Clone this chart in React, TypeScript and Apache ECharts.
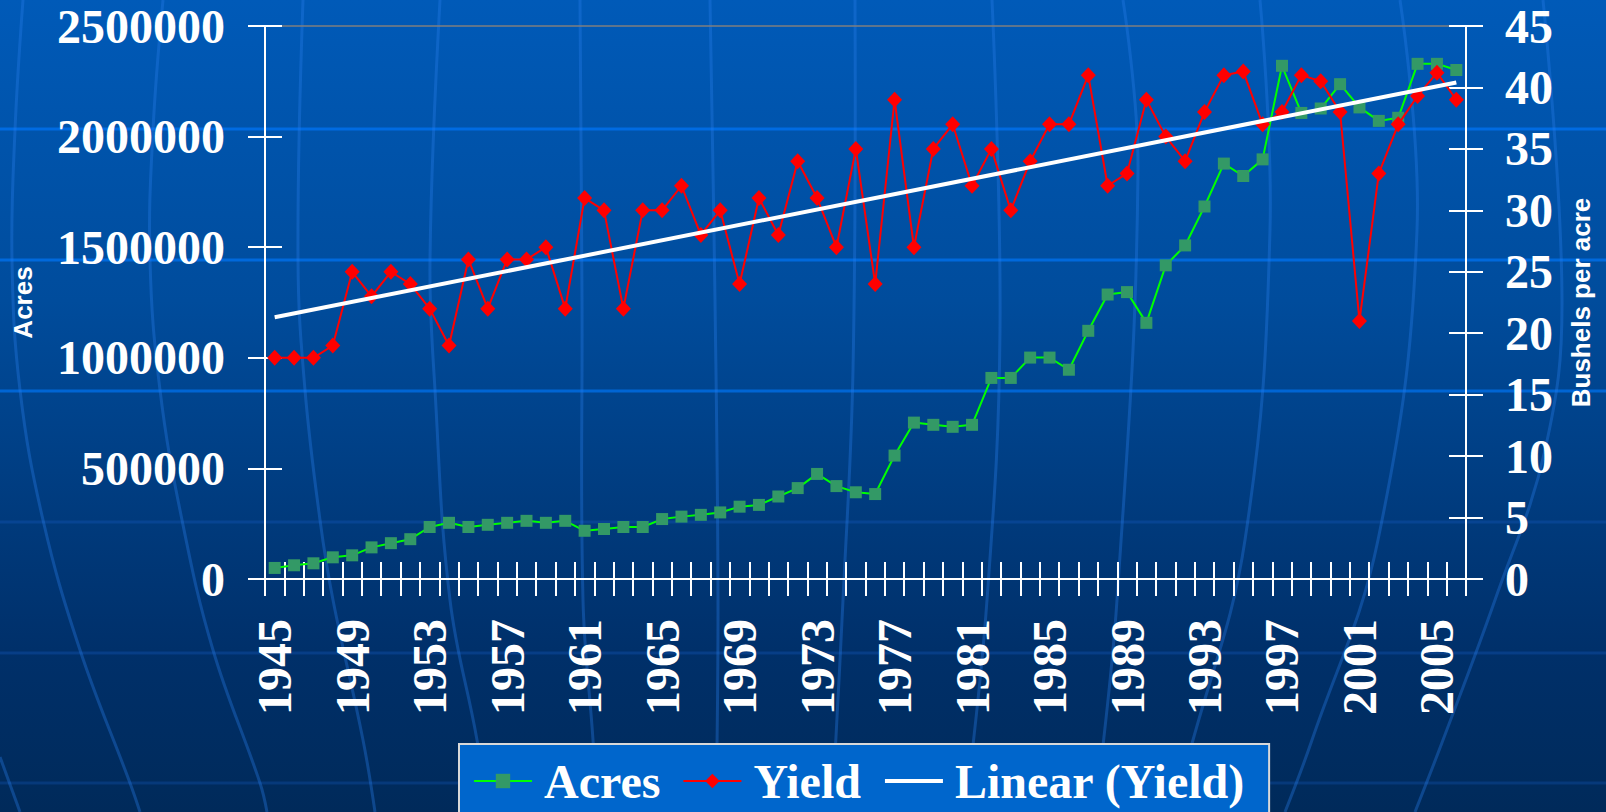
import React, { useEffect, useRef } from "react";
import * as echarts from "echarts";

// ---- Data ----
const years = [
  "1945", "1946", "1947", "1948", "1949", "1950", "1951", "1952", "1953", "1954",
  "1955", "1956", "1957", "1958", "1959", "1960", "1961", "1962", "1963", "1964",
  "1965", "1966", "1967", "1968", "1969", "1970", "1971", "1972", "1973", "1974",
  "1975", "1976", "1977", "1978", "1979", "1980", "1981", "1982", "1983", "1984",
  "1985", "1986", "1987", "1988", "1989", "1990", "1991", "1992", "1993", "1994",
  "1995", "1996", "1997", "1998", "1999", "2000", "2001", "2002", "2003", "2004",
  "2005", "2006",
];

const acres = [
  50000, 62000, 71000, 98000, 107000, 143000, 162000, 180000, 235000, 254000,
  235000, 245000, 254000, 263000, 254000, 263000, 218000, 226000, 235000, 235000,
  271000, 282000, 290000, 301000, 327000, 335000, 373000, 411000, 475000, 420000,
  392000, 384000, 558000, 707000, 697000, 688000, 697000, 909000, 909000, 1001000,
  1001000, 946000, 1122000, 1286000, 1297000, 1158000, 1418000, 1508000, 1684000, 1878000,
  1822000, 1897000, 2320000, 2107000, 2127000, 2237000, 2132000, 2071000, 2085000, 2329000,
  2329000, 2301000,
];

const yieldBu = [
  18, 18, 18, 19, 25, 23, 25, 24, 22, 19,
  26, 22, 26, 26, 27, 22, 31, 30, 22, 30,
  30, 32, 28, 30, 24, 31, 28, 34, 31, 27,
  35, 24, 39, 27, 35, 37, 32, 35, 30, 34,
  37, 37, 41, 32, 33, 39, 36, 34, 38, 41,
  41.3, 37, 38, 41, 40.5, 38, 21, 33, 37, 39.3,
  41.2, 39,
];

// Linear (Yield) trend line end values
const trendStart = 21.3;
const trendEnd = 40.4;

// Axis scales (tick values)
const acresAxis = [0, 2500000, 500000]; // min, max, interval
const yieldAxis = [0, 45, 5]; // min, max, interval

const legendNames = ["Acres", "Yield", "Linear (Yield)"];

// ---- Background decoration (template globe) ----
const bandLines = [
  { y: 129, color: "rgba(0,112,235,0.85)" },
  { y: 260, color: "rgba(0,112,235,0.8)" },
  { y: 391, color: "rgba(0,112,235,0.75)" },
  { y: 522, color: "rgba(20,90,190,0.35)" },
  { y: 653, color: "rgba(20,90,190,0.35)" },
  { y: 783, color: "rgba(20,90,190,0.3)" },
];

const meridians: number[][][] = [
  [[23, 0], [15, 130], [12, 260], [20, 390], [43, 520], [80, 650], [130, 783], [140, 812]],
  [[163, 0], [153, 130], [150, 260], [160, 390], [182, 520], [213, 650], [260, 783], [267, 812]],
  [[0, 757], [20, 812]],
  [[303, 0], [298, 260], [305, 390], [320, 520], [333, 600], [363, 740], [375, 812]],
  [[440, 0], [430, 260], [435, 390], [450, 600], [477, 740], [487, 812]],
  [[580, 0], [582, 300], [583, 600], [593, 740], [597, 812]],
  [[710, 0], [715, 300], [718, 600], [716, 812]],
  [[855, 0], [853, 370], [843, 600], [832, 812]],
  [[992, 0], [1000, 330], [987, 600], [965, 812]],
  [[1123, 0], [1138, 170], [1117, 600], [1095, 812]],
  [[1260, 0], [1270, 230], [1245, 540], [1193, 740], [1170, 812]],
  [[1400, 0], [1417, 230], [1378, 540], [1312, 740], [1285, 812]],
  [[1543, 0], [1562, 300], [1545, 450], [1495, 600], [1443, 740], [1415, 812]],
];

export default function App() {
  const ref = useRef<HTMLDivElement>(null);

  useEffect(() => {
    if (!ref.current) return;
    const chart = echarts.init(ref.current, null, { renderer: "svg" });

    const serif = "'Liberation Serif', 'Times New Roman', serif";
    const sans = "'Liberation Sans', Arial, sans-serif";
    const white = "#ffffff";
    const axisLineStyle = { color: white, width: 2 };
    const bigLabel = {
      color: white,
      fontFamily: serif,
      fontWeight: "bold" as const,
      fontSize: 48,
    };
    const nameStyle = {
      color: white,
      fontFamily: sans,
      fontWeight: "bold" as const,
      fontSize: 26,
    };

    const trend = years.map((_, i) =>
      i === 0 ? trendStart : i === years.length - 1 ? trendEnd : null
    );

    const graphics: any[] = [
      ...bandLines.map((b) => ({
        type: "line",
        silent: true,
        z: -10,
        shape: { x1: 0, y1: b.y, x2: 1606, y2: b.y },
        style: { stroke: b.color, lineWidth: 3 },
      })),
      ...meridians.map((pts) => ({
        type: "polyline",
        silent: true,
        z: -10,
        shape: { points: pts, smooth: 0.4 },
        style: { stroke: "rgba(40,125,235,0.35)", lineWidth: 3, fill: null },
      })),
    ];

    chart.setOption({
      animation: false,
      backgroundColor: "transparent",
      graphic: graphics,
      grid: {
        left: 265,
        right: 140,
        top: 26,
        bottom: 233,
        show: true,
        borderColor: "#7f7f7f",
        borderWidth: 1.5,
        backgroundColor: "transparent",
      },
      legend: {
        data: [
          { name: legendNames[0] },
          { name: legendNames[1] },
          { name: legendNames[2], itemStyle: { opacity: 0 }, lineStyle: { width: 4 } },
        ],
        left: 459,
        top: 744,
        orient: "horizontal",
        itemWidth: 58,
        itemHeight: 18,
        itemGap: 22,
        padding: [12, 24, 30, 14],
        backgroundColor: "#0066cc",
        borderColor: "#d9d9d9",
        borderWidth: 2,
        borderRadius: 0,
        selectedMode: false,
        textStyle: {
          color: white,
          fontFamily: serif,
          fontWeight: "bold",
          fontSize: 48,
          lineHeight: 50,
          padding: [0, 0, 0, 7],
        },
      },
      xAxis: [
        {
          type: "category",
          data: years,
          position: "bottom",
          boundaryGap: true,
          axisLine: { show: true, onZero: false, lineStyle: axisLineStyle },
          axisTick: { show: true, interval: 0, length: 17, lineStyle: axisLineStyle },
          axisLabel: { interval: 3, rotate: 90, margin: 40, ...bigLabel },
          splitLine: { show: false },
        },
        {
          type: "category",
          data: years,
          position: "bottom",
          boundaryGap: true,
          axisLine: { show: false },
          axisTick: { show: true, inside: true, interval: 0, length: 17, lineStyle: axisLineStyle },
          axisLabel: { show: false },
          splitLine: { show: false },
        },
      ],
      yAxis: [
        {
          type: "value",
          position: "left",
          min: acresAxis[0],
          max: acresAxis[1],
          interval: acresAxis[2],
          name: "Acres",
          nameLocation: "middle",
          nameGap: 229,
          nameTextStyle: nameStyle,
          axisLine: { show: true, onZero: false, lineStyle: axisLineStyle },
          axisTick: { show: true, length: 17, lineStyle: axisLineStyle },
          axisLabel: { margin: 40, formatter: (v: number) => String(v), ...bigLabel },
          splitLine: { show: false },
        },
        {
          type: "value",
          position: "right",
          min: yieldAxis[0],
          max: yieldAxis[1],
          interval: yieldAxis[2],
          name: "Bushels per acre",
          nameLocation: "middle",
          nameGap: 102,
          nameTextStyle: nameStyle,
          axisLine: { show: true, onZero: false, lineStyle: axisLineStyle },
          axisTick: { show: true, length: 17, lineStyle: axisLineStyle },
          axisLabel: { margin: 39, formatter: (v: number) => String(v), ...bigLabel },
          splitLine: { show: false },
        },
        {
          type: "value",
          position: "left",
          min: acresAxis[0],
          max: acresAxis[1],
          interval: acresAxis[2],
          axisLine: { show: false },
          axisTick: { show: true, inside: true, length: 17, lineStyle: axisLineStyle },
          axisLabel: { show: false },
          splitLine: { show: false },
        },
        {
          type: "value",
          position: "right",
          min: yieldAxis[0],
          max: yieldAxis[1],
          interval: yieldAxis[2],
          axisLine: { show: false },
          axisTick: { show: true, inside: true, length: 17, lineStyle: axisLineStyle },
          axisLabel: { show: false },
          splitLine: { show: false },
        },
      ],
      series: [
        {
          name: legendNames[0],
          type: "line",
          xAxisIndex: 0,
          yAxisIndex: 0,
          data: acres,
          symbol: "rect",
          symbolSize: 12,
          showSymbol: true,
          showAllSymbol: true,
          itemStyle: { color: "#339966" },
          lineStyle: { color: "#00ff00", width: 2 },
          z: 3,
        },
        {
          name: legendNames[1],
          type: "line",
          xAxisIndex: 0,
          yAxisIndex: 1,
          data: yieldBu,
          symbol: "diamond",
          symbolSize: [15, 16],
          showSymbol: true,
          showAllSymbol: true,
          itemStyle: { color: "#ff0000" },
          lineStyle: { color: "#ff0000", width: 2 },
          z: 4,
        },
        {
          name: legendNames[2],
          type: "line",
          xAxisIndex: 0,
          yAxisIndex: 1,
          data: trend,
          connectNulls: true,
          symbol: "none",
          showSymbol: false,
          itemStyle: { color: white },
          lineStyle: { color: white, width: 4 },
          z: 5,
        },
      ],
    });

    return () => chart.dispose();
  }, []);

  return (
    <div
      ref={ref}
      style={{
        position: "fixed",
        left: 0,
        top: 0,
        width: 1606,
        height: 812,
        background:
          "linear-gradient(180deg, #005ab8 0%, #004c9c 37%, #003a7c 64%, #00306a 80%, #002a5a 100%)",
      }}
    />
  );
}
